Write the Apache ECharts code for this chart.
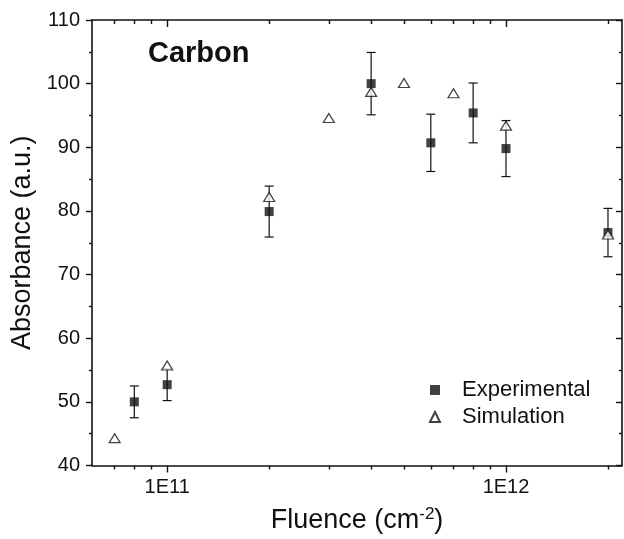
<!DOCTYPE html>
<html>
<head>
<meta charset="utf-8">
<style>
  html, body { margin: 0; padding: 0; background: #fff; }
  #chart { width: 624px; height: 539px; }
</style>
<script src="https://cdn.jsdelivr.net/npm/echarts@6/dist/echarts.min.js"></script>
</head>
<body>
<div id="chart"></div>
<script>
// values
const expFluence = [8e10, 1e11, 2e11, 4e11, 6e11, 8e11, 1e12, 2e12];
const expAbs = [50.0, 52.7, 79.9, 100.0, 90.7, 95.4, 89.8, 76.6];
const expErr = [2.5, 2.5, 4.0, 4.9, 4.5, 4.7, 4.4, 3.8];

const simFluence = [7e10, 1e11, 2e11, 3e11, 4e11, 5e11, 7e11, 1e12, 2e12];
const simAbs = [44.3, 55.7, 82.2, 94.6, 98.7, 100.1, 98.5, 93.4, 76.3];

const xMajorTicks = [1e11, 1e12];
const xMinorTicks = [7e10, 8e10, 9e10, 2e11, 3e11, 4e11, 5e11, 6e11, 7e11, 8e11, 9e11, 2e12];

const FONT = "Liberation Sans";
const BLACK = "#111";

const chart = echarts.init(document.getElementById("chart"));

function logAxis(position, ticks, major, inside) {
  return {
    type: "log",
    logBase: 10,
    min: 6e10,
    max: 2.2e12,
    position: position,
    axisLine: { show: major, onZero: false, lineStyle: { color: BLACK, width: 1.6 } },
    axisTick: {
      show: true,
      inside: inside,
      length: major ? 7 : 4,
      customValues: ticks,
      lineStyle: { color: BLACK, width: 1.4 },
    },
    axisLabel: { show: false },
    splitLine: { show: false },
    minorTick: { show: false },
    minorSplitLine: { show: false },
  };
}

const bottomMajor = logAxis("bottom", xMajorTicks, true, false);
bottomMajor.axisLabel = {
  show: true,
  customValues: xMajorTicks,
  formatter: (v) => "1E" + Math.round(Math.log10(v)),
  color: BLACK,
  fontFamily: FONT,
  fontSize: 20,
  margin: 12,
};
bottomMajor.name = "{a|Fluence (cm}{s|-2}{a|)}";
bottomMajor.nameLocation = "middle";
bottomMajor.nameGap = 40;
bottomMajor.nameTextStyle = {
  rich: {
    a: { fontFamily: FONT, fontSize: 27, color: BLACK, lineHeight: 30 },
    s: { fontFamily: FONT, fontSize: 17, color: BLACK, lineHeight: 17, verticalAlign: "top" },
  },
};

function valAxis(position, inside, withLabels) {
  return {
    type: "value",
    min: 40,
    max: 110,
    interval: 10,
    position: position,
    axisLine: { show: true, onZero: false, lineStyle: { color: BLACK, width: 1.6 } },
    axisTick: { show: true, inside: inside, length: 6, lineStyle: { color: BLACK, width: 1.4 } },
    minorTick: { show: true, splitNumber: 2, length: 3, lineStyle: { color: BLACK, width: 1.4 } },
    axisLabel: withLabels
      ? { show: true, color: BLACK, fontFamily: FONT, fontSize: 20, margin: 12 }
      : { show: false },
    splitLine: { show: false },
  };
}

const leftAxis = valAxis("left", false, true);
leftAxis.name = "Absorbance (a.u.)";
leftAxis.nameLocation = "middle";
leftAxis.nameGap = 53;
leftAxis.nameTextStyle = { fontFamily: FONT, fontSize: 27, color: BLACK };

const errData = expFluence.map((f, i) => [f, expAbs[i] - expErr[i], expAbs[i] + expErr[i]]);

chart.setOption({
  animation: false,
  backgroundColor: "#fff",
  grid: { left: 92, right: 2, top: 20, bottom: 70 },
  xAxis: [
    bottomMajor,
    logAxis("bottom", xMinorTicks, false, false),
    logAxis("top", xMajorTicks, true, true),
    logAxis("top", xMinorTicks, false, true),
  ],
  yAxis: [leftAxis, valAxis("right", true, false)],
  legend: {
    orient: "vertical",
    left: 424,
    top: 374,
    itemWidth: 10,
    itemHeight: 10,
    itemGap: 5,
    data: ["Experimental", "Simulation"],
    textStyle: { fontFamily: FONT, fontSize: 22, color: BLACK, padding: [0, 0, 0, 17] },
  },
  graphic: [
    {
      type: "text",
      x: 148,
      y: 54,
      style: {
        text: "Carbon",
        font: "bold 29px 'Liberation Sans'",
        fill: BLACK,
        textVerticalAlign: "middle",
      },
    },
  ],
  series: [
    {
      type: "custom",
      name: "err",
      xAxisIndex: 0,
      yAxisIndex: 0,
      z: 1,
      encode: { x: 0, y: [1, 2] },
      data: errData,
      renderItem: (params, api) => {
        const x = api.value(0);
        const top = api.coord([x, api.value(2)]);
        const bot = api.coord([x, api.value(1)]);
        const w = 4.5;
        const style = { stroke: BLACK, lineWidth: 1.2 };
        return {
          type: "group",
          children: [
            { type: "line", shape: { x1: top[0], y1: top[1], x2: bot[0], y2: bot[1] }, style },
            { type: "line", shape: { x1: top[0] - w, y1: top[1], x2: top[0] + w, y2: top[1] }, style },
            { type: "line", shape: { x1: bot[0] - w, y1: bot[1], x2: bot[0] + w, y2: bot[1] }, style },
          ],
        };
      },
    },
    {
      type: "scatter",
      name: "Experimental",
      z: 2,
      symbol: "rect",
      symbolSize: 9,
      itemStyle: { color: BLACK },
      data: expFluence.map((f, i) => [f, expAbs[i]]),
    },
    {
      type: "scatter",
      name: "Simulation",
      z: 3,
      symbol: "triangle",
      symbolSize: [11, 9],
      itemStyle: { color: "#fff", borderColor: BLACK, borderWidth: 1.2 },
      data: simFluence.map((f, i) => [f, simAbs[i]]),
    },
  ],
});
</script>
</body>
</html>
